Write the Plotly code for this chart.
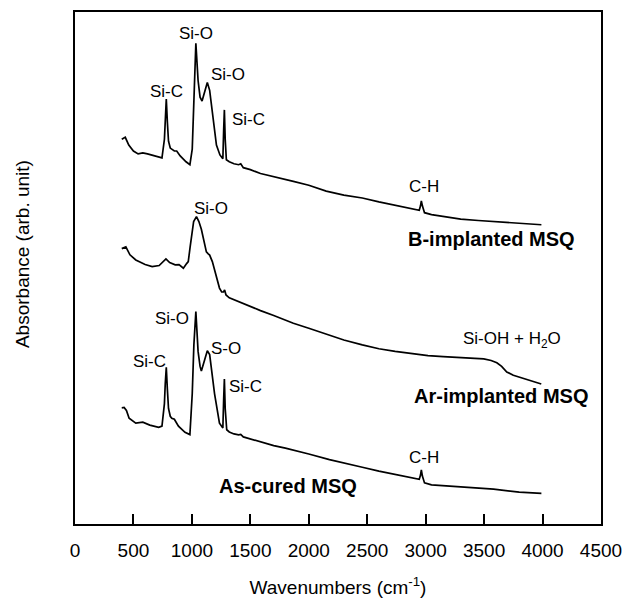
import plotly.graph_objects as go

# ---------------- data ----------------
tick_vals = [0, 500, 1000, 1500, 2000, 2500, 3000, 3500, 4000, 4500]

# B-implanted MSQ (offset spectrum, arb. units)
wn_b = [400, 430, 460, 500, 540, 580, 620, 680, 744, 765, 772, 781, 790, 800, 815, 850, 870,
        900, 950, 983, 1003, 1017, 1034, 1053, 1070, 1087, 1110, 1132, 1152, 1180, 1210, 1240,
        1265, 1272, 1278, 1285, 1295, 1320, 1360, 1400, 1418, 1440, 1500, 1587, 1700, 1868,
        2000, 2149, 2300, 2458, 2600, 2739, 2900, 2945, 2956, 2963, 2972, 2990, 3050, 3160,
        3300, 3450, 3581, 3750, 3900, 3990]
abs_b = [3.93, 3.95, 3.87, 3.81, 3.78, 3.79, 3.78, 3.76, 3.74, 3.93, 4.15, 4.34, 4.11, 3.91, 3.84,
         3.81, 3.81, 3.76, 3.70, 3.67, 3.83, 4.38, 4.91, 4.53, 4.36, 4.32, 4.43, 4.51, 4.43, 4.13,
         3.87, 3.77, 3.73, 4.03, 4.23, 3.93, 3.72, 3.70, 3.68, 3.67, 3.68, 3.64, 3.62, 3.58, 3.545,
         3.50, 3.46, 3.40, 3.36, 3.33, 3.29, 3.257, 3.215, 3.205, 3.25, 3.30, 3.25, 3.18, 3.16,
         3.137, 3.115, 3.10, 3.09, 3.072, 3.062, 3.057]

# Ar-implanted MSQ
wn_ar = [400, 435, 470, 520, 600, 660, 720, 750, 778, 810, 857, 890, 927, 955, 969, 985, 997,
         1015, 1039, 1060, 1081, 1105, 1124, 1140, 1152, 1175, 1194, 1215, 1236, 1255, 1270, 1280,
         1292, 1320, 1400, 1500, 1587, 1700, 1868, 2000, 2177, 2300, 2458, 2600, 2739, 2900,
         3020, 3150, 3301, 3420, 3497, 3560, 3609, 3650, 3694, 3750, 3850, 3989]
abs_ar = [2.813, 2.83, 2.75, 2.697, 2.65, 2.63, 2.64, 2.67, 2.707, 2.67, 2.647, 2.65, 2.613, 2.66,
          2.68, 2.83, 2.96, 3.09, 3.14, 3.09, 3.01, 2.88, 2.78, 2.76, 2.747, 2.68, 2.60, 2.49, 2.41,
          2.37, 2.37, 2.39, 2.34, 2.31, 2.27, 2.22, 2.18, 2.13, 2.05, 2.00, 1.93, 1.88, 1.83, 1.79,
          1.763, 1.735, 1.72, 1.71, 1.703, 1.697, 1.687, 1.67, 1.647, 1.61, 1.553, 1.52, 1.48, 1.43]

# As-cured MSQ
wn_as = [400, 420, 440, 463, 520, 580, 640, 716, 744, 765, 772, 781, 790, 800, 815, 828, 850, 885,
         941, 983, 1003, 1017, 1034, 1053, 1070, 1081, 1110, 1132, 1152, 1194, 1236, 1265, 1272,
         1278, 1285, 1298, 1320, 1360, 1400, 1418, 1440, 1500, 1600, 1700, 1800, 1896, 2000, 2177,
         2300, 2458, 2600, 2739, 2900, 2945, 2956, 2963, 2972, 2990, 3050, 3301, 3581, 3800, 3990]
abs_as = [1.187, 1.19, 1.16, 1.08, 1.03, 1.04, 1.01, 0.987, 1.00, 1.23, 1.43, 1.60, 1.38, 1.18,
          1.10, 1.08, 1.07, 1.00, 0.937, 0.913, 1.33, 1.83, 2.17, 1.763, 1.61, 1.563, 1.68, 1.77,
          1.73, 1.33, 1.03, 0.98, 1.28, 1.48, 1.18, 0.963, 0.94, 0.92, 0.91, 0.915, 0.89, 0.87, 0.83,
          0.80, 0.775, 0.747, 0.715, 0.657, 0.62, 0.58, 0.54, 0.507, 0.47, 0.457, 0.50, 0.553, 0.49,
          0.42, 0.40, 0.38, 0.357, 0.325, 0.313]

# peak labels: (text, wavenumber, absorbance)
peak_labels = [
    ("Si-O", 1033, 5.013), ("Si-O", 1309, 4.59), ("Si-C", 779, 4.423), ("Si-C", 1483, 4.137),
    ("C-H", 2983, 3.447),
    ("Si-O", 1163, 3.22), ("Si-OH + H<sub>2</sub>O", 3736, 1.88),
    ("Si-O", 830, 2.103), ("Si-C", 639, 1.663), ("S-O", 1294, 1.797), ("Si-C", 1456, 1.403),
    ("C-H", 2983, 0.68),
]
sample_labels = [
    ("B-implanted MSQ", 3560, 2.913),
    ("Ar-implanted MSQ", 3645, 1.303),
    ("As-cured MSQ", 1824, 0.39),
]

# ---------------- figure ----------------
FONT = "Liberation Sans, Arial, sans-serif"
fig = go.Figure()
for wn, ab, name in [(wn_b, abs_b, "B-implanted MSQ"), (wn_ar, abs_ar, "Ar-implanted MSQ"),
                     (wn_as, abs_as, "As-cured MSQ")]:
    fig.add_trace(go.Scatter(x=wn, y=ab, mode="lines", name=name,
                             line=dict(color="black", width=1.7), showlegend=False))

for txt, x, y in peak_labels:
    fig.add_annotation(x=x, y=y, text=txt, showarrow=False, xanchor="center", yanchor="middle",
                       font=dict(family=FONT, size=17, color="black"))
for txt, x, y in sample_labels:
    fig.add_annotation(x=x, y=y, text="<b>" + txt + "</b>", showarrow=False, xanchor="center",
                       yanchor="middle", font=dict(family=FONT, size=20, color="black"))

# y-axis title (placed as a rotated annotation, slightly above the plot centre as in the reference)
fig.add_annotation(xref="paper", yref="paper", x=-0.1, y=0.528, text="Absorbance (arb. unit)",
                   textangle=-90, showarrow=False, xanchor="center", yanchor="middle",
                   font=dict(family=FONT, size=19, color="black"))

fig.update_layout(
    width=632, height=605,
    margin=dict(l=75, r=24, t=10, b=72),
    paper_bgcolor="white", plot_bgcolor="white",
    font=dict(family=FONT, color="black"),
    xaxis=dict(range=[0, 4500], tickvals=tick_vals, ticks="inside", ticklen=10, tickwidth=1.5,
               tickcolor="black", showline=True, linewidth=1.5, linecolor="black", mirror=True,
               showgrid=False, zeroline=False, tickfont=dict(size=19, family=FONT),
               ticklabelstandoff=8,
               title=dict(text="Wavenumbers (cm<sup>-1</sup>)", font=dict(size=19, family=FONT),
                          standoff=21)),
    yaxis=dict(range=[0, 5.23], showticklabels=False, ticks="", showline=True, linewidth=1.5,
               linecolor="black", mirror=True, showgrid=False, zeroline=False),
)
fig.write_html("out.html")
